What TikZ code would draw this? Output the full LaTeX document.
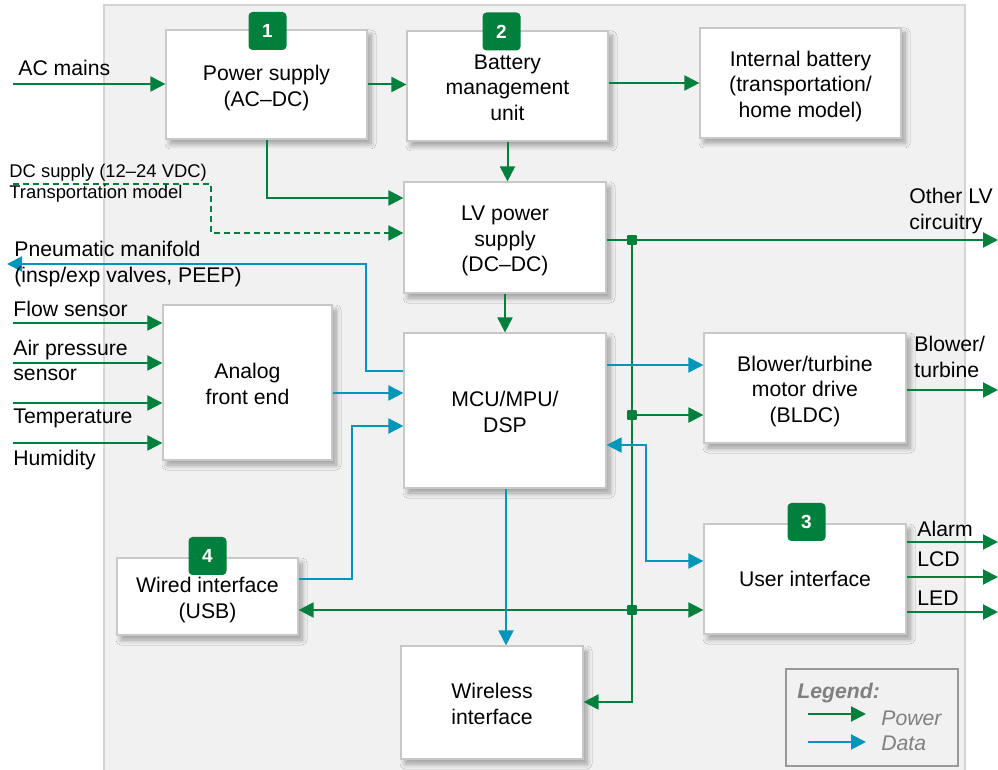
\documentclass[tikz,border=0pt]{standalone}
\usepackage{fontspec}
\setmainfont{Liberation Sans}
\usetikzlibrary{arrows.meta,shadows.blur}
\definecolor{pwrgreen}{RGB}{0,128,60}
\definecolor{datablue}{RGB}{0,150,185}
\definecolor{panel}{RGB}{241,241,241}
\definecolor{panelline}{RGB}{212,212,212}
\definecolor{boxline}{RGB}{200,200,200}
\definecolor{leggray}{RGB}{128,128,128}
\newcommand{\upstrut}{\rule{0pt}{12pt}} % even out multi-line box text
\newcommand{\dnstrut}{\rule[-3pt]{0pt}{3pt}}
\begin{document}
\begin{tikzpicture}[x=0.5pt,y=-0.5pt,
  font=\fontsize{10.6}{12.75}\selectfont,
  box/.style={draw=boxline,fill=white,line width=0.6pt,align=center,inner sep=2pt,
    blur shadow={shadow xshift=2pt,shadow yshift=-2.5pt,shadow blur radius=2.5pt,shadow blur steps=8,shadow opacity=35}},
  badge/.style={fill=pwrgreen,text=white,rounded corners=2pt,minimum size=19pt,inner sep=0pt,
    font=\fontsize{9.5}{10}\selectfont\bfseries},
  pwr/.style={draw=pwrgreen,line width=1pt,-{Triangle[length=7.5pt,width=7.5pt]}},
  dat/.style={draw=datablue,line width=1pt,-{Triangle[length=7.5pt,width=7.5pt]}},
  datboth/.style={dat,{Triangle[length=7.5pt,width=7.5pt]}-{Triangle[length=7.5pt,width=7.5pt]}},
  lbl/.style={inner sep=0pt,anchor=west,align=left},
  junct/.style={fill=pwrgreen,minimum size=4.8pt,inner sep=0pt,rounded corners=0.4pt}]

  \useasboundingbox (0,0) rectangle (998,770);
  \draw[fill=panel,draw=panelline,line width=0.7pt] (104,5) rectangle (965,775); % gray board

  % blocks
  \node[box,minimum width=100.5pt,minimum height=54.5pt] (psu) at (266.5,84.5) {\upstrut Power supply\\(AC–DC)\dnstrut};
  \node[box,minimum width=100.5pt,minimum height=55pt] (bmu) at (507.5,86) {\upstrut Battery\\management\\unit\dnstrut};
  \node[box,minimum width=100.5pt,minimum height=55pt] (batt) at (800.5,83) {\upstrut Internal battery\\(transportation/\\home model)\dnstrut};
  \node[box,minimum width=101pt,minimum height=55.5pt] (lv) at (505,237.5) {\upstrut LV power\\supply\\(DC–DC)\dnstrut};
  \node[box,minimum width=101pt,minimum height=77.5pt] (mcu) at (505,410.5) {\upstrut MCU/MPU/\\DSP\dnstrut};
  \node[box,minimum width=84.5pt,minimum height=77.5pt] (afe) at (247.5,382.5) {\upstrut Analog\\front end\dnstrut};
  \node[box,minimum width=101pt,minimum height=55pt] (blower) at (805,388) {\upstrut Blower/turbine\\motor drive\\(BLDC)\dnstrut};
  \node[box,minimum width=101pt,minimum height=55pt] (ui) at (805,579) {User interface};
  \node[box,minimum width=90.5pt,minimum height=38.5pt] (wired) at (207.5,596.5) {\upstrut Wired interface\\(USB)\dnstrut};
  \node[box,minimum width=91pt,minimum height=56.5pt] (wireless) at (492,702.5) {\upstrut Wireless\\interface\dnstrut};

  % numbered badges
  \node[badge] (b1) at (267.5,31) {1};
  \node[badge] (b2) at (501.5,31.5) {2};
  \node[badge] (b3) at (806.5,522) {3};
  \node[badge] (b4) at (207.5,556) {4};

  % free ends
  \coordinate (ac) at (13,84);
  \coordinate (dc) at (13,184);
  \coordinate (pneu) at (7,264);
  \coordinate (flow) at (13,323);
  \coordinate (air) at (13,363);
  \coordinate (temp) at (13,403);
  \coordinate (hum) at (13,443);
  \coordinate (otherlv) at (998,240);
  \coordinate (blowout) at (998,390);
  \coordinate (alarm) at (998,542);
  \coordinate (lcd) at (998,577);
  \coordinate (led) at (998,612);
  \coordinate (j1) at (632,240); % power bus
  \coordinate (j2) at (632,415);
  \coordinate (j3) at (632,610);

  % power
  \draw[pwr] (ac) -- (ac -| psu.west);
  \draw[pwr] (psu.east) -- (psu.east -| bmu.west);
  \draw[pwr] (batt -| bmu.east) -- (batt.west);
  \draw[pwr] (bmu.south) -- (bmu.south |- lv.north);
  \draw[pwr] (psu.south) |- (lv.west |- 0,198);
  \draw[pwr,dash pattern=on 3pt off 2pt] (dc) -- (211,184) |- (lv.west |- 0,233); % transportation model
  \draw[pwr] (lv.south) -- (lv.south |- mcu.north);
  \draw[pwr] (lv.east |- j1) -- (otherlv);
  \draw[pwr] (j1) -- (j1 |- 0,702) -- (wireless.east |- 0,702);
  \draw[pwr] (j2) -- (j2 -| blower.west);
  \draw[pwr] (j3) -- (j3 -| ui.west);
  \draw[pwr] (j3) -- (j3 -| wired.east);
  \draw[pwr] (blower.east |- blowout) -- (blowout);
  \draw[pwr] (ui.east |- alarm) -- (alarm);
  \draw[pwr] (ui.east |- lcd) -- (lcd);
  \draw[pwr] (ui.east |- led) -- (led);
  \foreach \s in {flow,air,temp,hum} \draw[pwr] (\s) -- (\s -| afe.west); % sensors
  \foreach \j in {j1,j2,j3} \node[junct] (\j dot) at (\j) {};

  % data
  \draw[dat] (mcu.west |- 0,371) -| (366,264) -- (pneu);
  \draw[dat] (afe.east |- 0,393) -- (mcu.west |- 0,393);
  \draw[dat] (wired.east |- 0,579) -| (352,426) -- (mcu.west |- 0,426);
  \draw[dat] (mcu.east |- 0,365) -- (blower.west |- 0,365);
  \draw[datboth] (mcu.east |- 0,445) -| (646,561) -- (ui.west |- 0,561);
  \draw[dat] (mcu.south -| 506,0) -- (wireless.north -| 506,0);

  % labels
  \node[lbl] (acl) at (18,68) {AC mains};
  \node[lbl,font=\fontsize{9.2}{10.5}\selectfont] (dcl) at (9,183.5) {DC supply (12–24 VDC)\\Transportation model};
  \node[lbl,font=\fontsize{10.6}{13}\selectfont] (pneul) at (14,264) {Pneumatic manifold\\(insp/exp valves, PEEP)};
  \node[lbl] (flowl) at (13,309) {Flow sensor};
  \node[lbl] (airl) at (13,360.5) {Air pressure\\sensor};
  \node[lbl] (templ) at (13,418) {Temperature};
  \node[lbl] (huml) at (13,460) {Humidity};
  \node[lbl,font=\fontsize{10.6}{13}\selectfont] (otherl) at (909,211) {Other LV\\circuitry};
  \node[lbl,font=\fontsize{10.6}{13}\selectfont] (blowl) at (914,357) {Blower/\\turbine};
  \node[lbl] (alarml) at (917,529) {Alarm};
  \node[lbl] (lcdl) at (917,559) {LCD};
  \node[lbl] (ledl) at (917,598) {LED};

  % legend
  \node[draw=leggray!80,line width=0.7pt,minimum width=86pt,minimum height=48.5pt] (legend) at (872,717.5) {};
  \node[lbl,text=leggray,font=\fontsize{10.6}{12}\selectfont\bfseries\itshape] (legl) at (797,693) {Legend:};
  \coordinate (lp) at (808,714);
  \coordinate (ld) at (808,742);
  \draw[pwr] (lp) -- ++(58,0);
  \draw[dat] (ld) -- ++(58,0);
  \node[lbl,text=leggray,font=\fontsize{10.6}{12}\selectfont\itshape] (powl) at (881,718) {Power};
  \node[lbl,text=leggray,font=\fontsize{10.6}{12}\selectfont\itshape] (datl) at (881,743) {Data};
\end{tikzpicture}
\end{document}
